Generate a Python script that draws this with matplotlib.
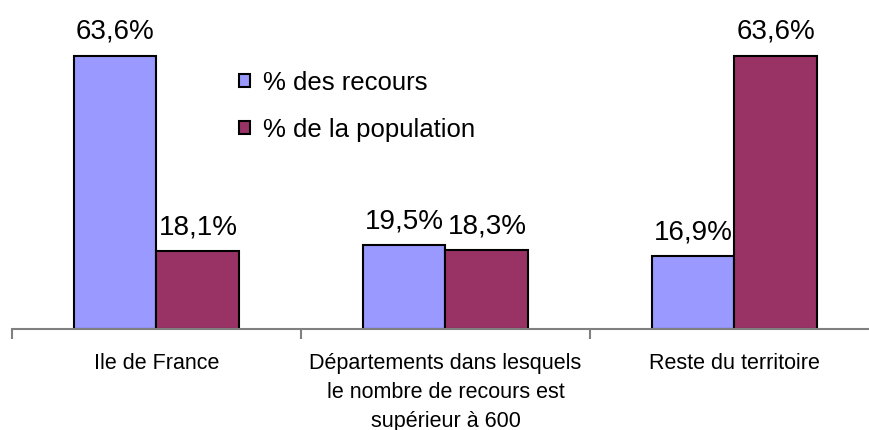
import numpy as np
import matplotlib.pyplot as plt
from matplotlib.patches import Patch

categories = ["Ile de France",
              "Départements dans lesquels\nle nombre de recours est\nsupérieur à 600",
              "Reste du territoire"]
recours = [63.6, 19.5, 16.9]
population = [18.1, 18.3, 63.6]
recours_labels = ["63,6%", "19,5%", "16,9%"]
population_labels = ["18,1%", "18,3%", "63,6%"]
series_names = ["% des recours", "% de la population"]

plt.rcParams['font.family'] = ['Liberation Sans', 'DejaVu Sans']

fig = plt.figure(figsize=(8.69, 4.30), dpi=100)
ax = fig.add_axes([12 / 869, 101 / 430, 867 / 869, 300.5 / 430])

x = np.arange(len(categories))
w = 0.287
c1, c2 = "#9999FF", "#993366"
b1 = ax.bar(x - w / 2, recours, w, color=c1, edgecolor="black", linewidth=1.5)
b2 = ax.bar(x + w / 2, population, w, color=c2, edgecolor="black", linewidth=1.5)

for bars, labs in ((b1, recours_labels), (b2, population_labels)):
    for b, lab in zip(bars, labs):
        ax.annotate(lab, (b.get_x() + b.get_width() / 2, b.get_height()),
                    xytext=(0, 8), textcoords="offset points",
                    ha="center", va="bottom", fontsize=20)

ax.set_xlim(-0.5, 2.5)
ax.set_ylim(0, 70)
for s in ("top", "right", "left"):
    ax.spines[s].set_visible(False)
ax.spines["bottom"].set_color("#808080")
ax.spines["bottom"].set_linewidth(1.5)
ax.set_yticks([])

ax.set_xticks([-0.5, 0.5, 1.5, 2.5])
ax.set_xticklabels([])
ax.tick_params(axis="x", which="major", length=7, width=1.5, color="#808080")
ax.set_xticks(x, minor=True)
ax.set_xticklabels(categories, minor=True, fontsize=15.5, linespacing=1.5)
ax.tick_params(axis="x", which="minor", length=0, pad=17)

handles = [Patch(facecolor=c1, edgecolor="black", linewidth=1.5),
           Patch(facecolor=c2, edgecolor="black", linewidth=1.5)]
fig.legend(handles, series_names, loc="upper left", bbox_to_anchor=(0.275, 0.836),
           frameon=False, fontsize=18.5, handlelength=0.42, handleheight=0.42,
           handletextpad=0.5, labelspacing=0.9, borderpad=0, borderaxespad=0)

fig.savefig("out.png", dpi=100)
